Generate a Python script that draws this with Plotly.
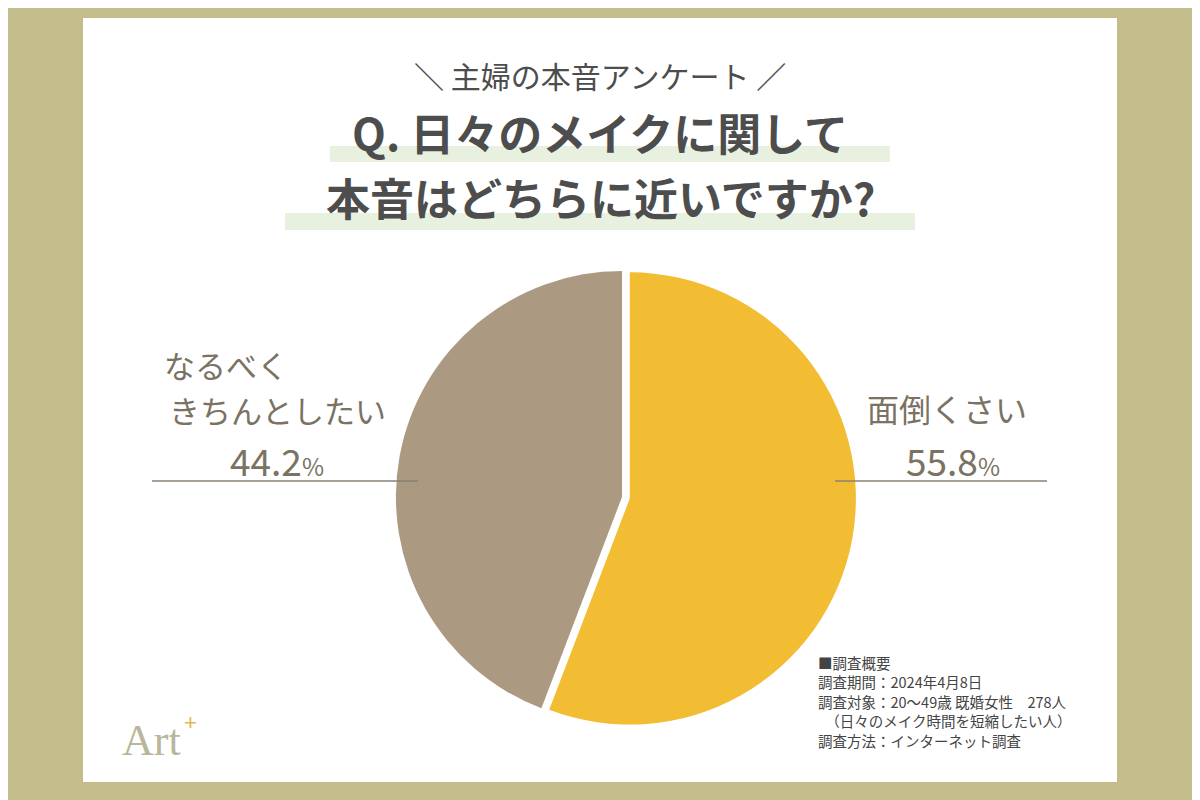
import plotly.graph_objects as go

labels = ["面倒くさい", "なるべくきちんとしたい"]
values = [55.8, 44.2]
colors = ["#f2bc33", "#ac9981"]

F = "Noto Sans CJK JP"
D = 8  # page body margin compensation
def px(x): return (x - D) / 1200
def py(y): return 1 - (y - D) / 800

fig = go.Figure()
R = 234
cx, cy = 622, 497
fig.add_trace(go.Pie(labels=labels, values=values, sort=False, direction="clockwise", rotation=0,
    marker=dict(colors=colors, line=dict(color="white", width=0)), pull=[0.035, 0],
    textinfo="none", hoverinfo="label+percent", showlegend=False,
    domain=dict(x=[px(cx-R), px(cx+R)], y=[py(cy+R), py(cy-R)])))

def rect(x0, x1, y0, y1, c):
    return dict(type="rect", xref="paper", yref="paper", x0=x0, x1=x1, y0=y0, y1=y1, fillcolor=c, line_width=0, layer="below")
shapes = [
    rect(0, 1, 0, 1, "#c2bd8a"),
    rect(px(83), px(1117), py(782), py(18), "white"),
    rect(px(330), px(890), py(162), py(146), "#e8f1df"),
    rect(px(285), px(915), py(230), py(213), "#e8f1df"),
    dict(type="line", xref="paper", yref="paper", x0=px(152), x1=px(418), y0=py(481), y1=py(481), line=dict(color="#8a8272", width=1.5)),
    dict(type="line", xref="paper", yref="paper", x0=px(835), x1=px(1047), y0=py(481), y1=py(481), line=dict(color="#8a8272", width=1.5)),
]
def T(x, y, text, size, color="#4d4d4d", anchor="center", font=F):
    return dict(xref="paper", yref="paper", x=px(x), y=py(y), text=text, showarrow=False,
                xanchor=anchor, yanchor="middle", font=dict(family=font, size=size, color=color), align="left")
lab = "#7a7262"
notes = ["■調査概要", "調査期間：2024年4月8日", "調査対象：20～49歳 既婚女性　278人",
         "　（日々のメイク時間を短縮したい人）", "調査方法：インターネット調査"]
ann = [
    T(600, 75, "＼ 主婦の本音アンケート ／", 30),
    T(600, 132, "<b>Q. 日々のメイクに関して</b>", 44),
    T(600, 197, "<b>本音はどちらに近いですか?</b>", 44),
    T(162, 364, "なるべく", 31, lab, "left"),
    T(277, 410, "きちんとしたい", 31, lab),
    T(277, 460, "44.2<span style='font-size:24px'>%</span>", 37, lab),
    T(947, 408, "面倒くさい", 32, lab),
    T(953, 460, "55.8<span style='font-size:24px'>%</span>", 37, lab),
    T(120, 740, "Art", 44, "#b9b69c", "left", "Liberation Serif"),
    T(182, 722, "+", 22, "#e0b84a", "left", "Liberation Sans"),
]
for i, n in enumerate(notes):
    ann.append(T(816, 662 + i * 19.5, n, 14.5, "#444", "left"))
fig.update_layout(width=1200, height=800, margin=dict(l=0, r=0, t=0, b=0), paper_bgcolor="#c2bd8a",
                  plot_bgcolor="white", shapes=shapes, annotations=ann)
fig.write_html("out.html")
